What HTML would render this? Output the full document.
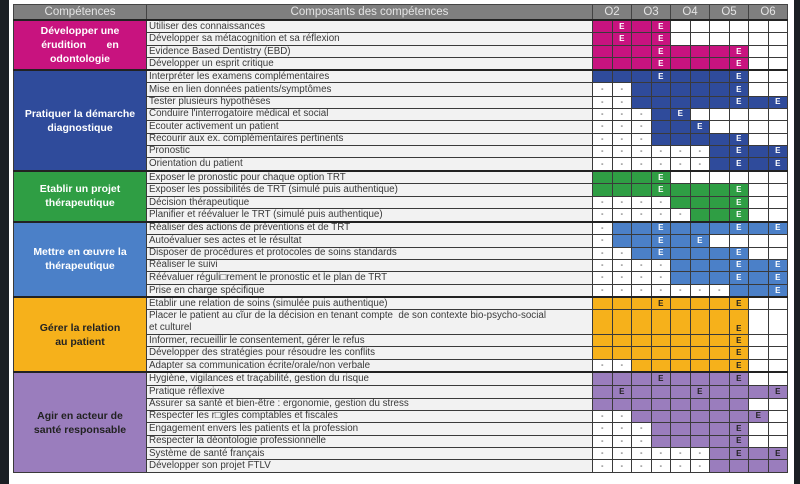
<!DOCTYPE html>
<html><head><meta charset="utf-8"><style>
html,body{margin:0;padding:0;width:800px;height:484px;background:#1b1f24;overflow:hidden}
.card{position:absolute;left:9px;top:0;width:785px;height:484px;background:#fff}
table{position:absolute;left:13px;top:4px;width:774px;border-collapse:collapse;table-layout:fixed;font-family:"Liberation Sans",sans-serif}
td,th{padding:0;border:1px solid #3a3a3a;height:11.1px;line-height:10px;overflow:hidden;white-space:nowrap}
tr.h td{height:12.1px}
th{background:#7f7f7f;color:#e4e4e4;font-weight:normal;font-size:11.5px;height:14px;line-height:13px;border-color:#444}
td.t{background:#f2f2f2;color:#3a3a3a;font-size:9.8px;padding-left:2px}
td.w,td.d{background:#fff}
td.d::after{content:"-";font-size:7px;color:#555}
td.w,td.d,td.p,td.b,td.g,td.l,td.o,td.v{text-align:center;font-size:8px;font-weight:bold}
td.c.c{color:#fff;font-weight:bold;font-size:10.5px;text-align:center;white-space:normal;line-height:14px;padding:0 6px}
.p{background:#c8137f;color:#fff}
.b{background:#2f4b9b;color:#fff}
.g{background:#2f9e44;color:#fff}
.l{background:#4b80c8;color:#fff}
.o{background:#f6b11b;color:#222}
.v{background:#9a7dbd;color:#222}
tr.s td{border-top:2px solid #222}
</style></head><body><div class="card"></div>
<table>
<colgroup><col style="width:133px"><col style="width:446px"><col span="10" style="width:19.5px"></colgroup>
<tr><th>Compétences</th><th>Composants des compétences</th><th colspan="2">O2</th><th colspan="2">O3</th><th colspan="2">O4</th><th colspan="2">O5</th><th colspan="2">O6</th></tr>

<tr class="s"><td class="c c p" rowspan="4">Développer une<br>érudition&nbsp;&nbsp;&nbsp;&nbsp;&nbsp;&nbsp; en<br>odontologie</td><td class="t">Utiliser des connaissances</td><td class="p"></td><td class="p">E</td><td class="p"></td><td class="p">E</td><td class="w"></td><td class="w"></td><td class="w"></td><td class="w"></td><td class="w"></td><td class="w"></td></tr>
<tr class="h"><td class="t">Développer sa métacognition et sa réflexion</td><td class="p"></td><td class="p">E</td><td class="p"></td><td class="p">E</td><td class="w"></td><td class="w"></td><td class="w"></td><td class="w"></td><td class="w"></td><td class="w"></td></tr>
<tr><td class="t">Evidence Based Dentistry (EBD)</td><td class="p"></td><td class="p"></td><td class="p"></td><td class="p">E</td><td class="p"></td><td class="p"></td><td class="p"></td><td class="p">E</td><td class="w"></td><td class="w"></td></tr>
<tr><td class="t">Développer un esprit critique</td><td class="p"></td><td class="p"></td><td class="p"></td><td class="p">E</td><td class="p"></td><td class="p"></td><td class="p"></td><td class="p">E</td><td class="w"></td><td class="w"></td></tr>

<tr class="s"><td class="c c b" rowspan="8">Pratiquer la démarche<br>diagnostique</td><td class="t">Interpréter les examens complémentaires</td><td class="b"></td><td class="b"></td><td class="b"></td><td class="b">E</td><td class="b"></td><td class="b"></td><td class="b"></td><td class="b">E</td><td class="w"></td><td class="w"></td></tr>
<tr class="h"><td class="t">Mise en lien données patients/symptômes</td><td class="d"></td><td class="d"></td><td class="b"></td><td class="b"></td><td class="b"></td><td class="b"></td><td class="b"></td><td class="b">E</td><td class="w"></td><td class="w"></td></tr>
<tr><td class="t">Tester plusieurs hypothèses</td><td class="d"></td><td class="d"></td><td class="b"></td><td class="b"></td><td class="b"></td><td class="b"></td><td class="b"></td><td class="b">E</td><td class="b"></td><td class="b">E</td></tr>
<tr><td class="t">Conduire l'interrogatoire médical et social</td><td class="d"></td><td class="d"></td><td class="d"></td><td class="b"></td><td class="b">E</td><td class="w"></td><td class="w"></td><td class="w"></td><td class="w"></td><td class="w"></td></tr>
<tr class="h"><td class="t">Ecouter activement un patient</td><td class="d"></td><td class="d"></td><td class="d"></td><td class="b"></td><td class="b"></td><td class="b">E</td><td class="w"></td><td class="w"></td><td class="w"></td><td class="w"></td></tr>
<tr><td class="t">Recourir aux ex. complémentaires pertinents</td><td class="d"></td><td class="d"></td><td class="d"></td><td class="b"></td><td class="b"></td><td class="b"></td><td class="b"></td><td class="b">E</td><td class="w"></td><td class="w"></td></tr>
<tr><td class="t">Pronostic</td><td class="d"></td><td class="d"></td><td class="d"></td><td class="d"></td><td class="d"></td><td class="d"></td><td class="b"></td><td class="b">E</td><td class="b"></td><td class="b">E</td></tr>
<tr class="h"><td class="t">Orientation du patient</td><td class="d"></td><td class="d"></td><td class="d"></td><td class="d"></td><td class="d"></td><td class="d"></td><td class="b"></td><td class="b">E</td><td class="b"></td><td class="b">E</td></tr>

<tr class="s"><td class="c c g" rowspan="4">Etablir un projet<br>thérapeutique</td><td class="t">Exposer le pronostic pour chaque option TRT</td><td class="g"></td><td class="g"></td><td class="g"></td><td class="g">E</td><td class="w"></td><td class="w"></td><td class="w"></td><td class="w"></td><td class="w"></td><td class="w"></td></tr>
<tr class="h"><td class="t">Exposer les possibilités de TRT (simulé puis authentique)</td><td class="g"></td><td class="g"></td><td class="g"></td><td class="g">E</td><td class="g"></td><td class="g"></td><td class="g"></td><td class="g">E</td><td class="w"></td><td class="w"></td></tr>
<tr><td class="t">Décision thérapeutique</td><td class="d"></td><td class="d"></td><td class="d"></td><td class="d"></td><td class="g"></td><td class="g"></td><td class="g"></td><td class="g">E</td><td class="w"></td><td class="w"></td></tr>
<tr><td class="t">Planifier et réévaluer le TRT (simulé puis authentique)</td><td class="d"></td><td class="d"></td><td class="d"></td><td class="d"></td><td class="d"></td><td class="g"></td><td class="g"></td><td class="g">E</td><td class="w"></td><td class="w"></td></tr>

<tr class="s"><td class="c c l" rowspan="6">Mettre en œuvre la<br>thérapeutique</td><td class="t">Réaliser des actions de préventions et de TRT</td><td class="d"></td><td class="l"></td><td class="l"></td><td class="l">E</td><td class="l"></td><td class="l"></td><td class="l"></td><td class="l">E</td><td class="l"></td><td class="l">E</td></tr>
<tr class="h"><td class="t">Autoévaluer ses actes et le résultat</td><td class="d"></td><td class="l"></td><td class="l"></td><td class="l">E</td><td class="l"></td><td class="l">E</td><td class="w"></td><td class="w"></td><td class="w"></td><td class="w"></td></tr>
<tr><td class="t">Disposer de procédures et protocoles de soins standards</td><td class="d"></td><td class="d"></td><td class="l"></td><td class="l">E</td><td class="l"></td><td class="l"></td><td class="l"></td><td class="l">E</td><td class="w"></td><td class="w"></td></tr>
<tr><td class="t">Réaliser le suivi</td><td class="d"></td><td class="d"></td><td class="d"></td><td class="d"></td><td class="l"></td><td class="l"></td><td class="l"></td><td class="l">E</td><td class="l"></td><td class="l">E</td></tr>
<tr class="h"><td class="t">Réévaluer réguli□rement le pronostic et le plan de TRT</td><td class="d"></td><td class="d"></td><td class="d"></td><td class="d"></td><td class="l"></td><td class="l"></td><td class="l"></td><td class="l">E</td><td class="l"></td><td class="l">E</td></tr>
<tr><td class="t">Prise en charge spécifique</td><td class="d"></td><td class="d"></td><td class="d"></td><td class="d"></td><td class="d"></td><td class="d"></td><td class="d"></td><td class="l"></td><td class="l"></td><td class="l">E</td></tr>

<tr class="s"><td class="c c o" rowspan="5" style="color:#222">Gérer la relation<br>au patient</td><td class="t">Etablir une relation de soins (simulée puis authentique)</td><td class="o"></td><td class="o"></td><td class="o"></td><td class="o">E</td><td class="o"></td><td class="o"></td><td class="o"></td><td class="o">E</td><td class="w"></td><td class="w"></td></tr>
<tr><td class="t" style="height:23.5px;line-height:12px">Placer le patient au cĩur de la décision en tenant compte&nbsp; de son contexte bio-psycho-social<br>et culturel</td><td class="o"></td><td class="o"></td><td class="o"></td><td class="o"></td><td class="o"></td><td class="o"></td><td class="o"></td><td class="o" style="vertical-align:bottom">E</td><td class="w"></td><td class="w"></td></tr>
<tr><td class="t">Informer, recueillir le consentement, gérer le refus</td><td class="o"></td><td class="o"></td><td class="o"></td><td class="o"></td><td class="o"></td><td class="o"></td><td class="o"></td><td class="o">E</td><td class="w"></td><td class="w"></td></tr>
<tr class="h"><td class="t">Développer des stratégies pour résoudre les conflits</td><td class="o"></td><td class="o"></td><td class="o"></td><td class="o"></td><td class="o"></td><td class="o"></td><td class="o"></td><td class="o">E</td><td class="w"></td><td class="w"></td></tr>
<tr><td class="t">Adapter sa communication écrite/orale/non verbale</td><td class="d"></td><td class="d"></td><td class="o"></td><td class="o"></td><td class="o"></td><td class="o"></td><td class="o"></td><td class="o">E</td><td class="w"></td><td class="w"></td></tr>

<tr class="s"><td class="c c v" rowspan="8" style="color:#222">Agir en acteur de<br>santé responsable</td><td class="t">Hygiène, vigilances et traçabilité, gestion du risque</td><td class="v"></td><td class="v"></td><td class="v"></td><td class="v">E</td><td class="v"></td><td class="v"></td><td class="v"></td><td class="v">E</td><td class="w"></td><td class="w"></td></tr>
<tr class="h"><td class="t">Pratique réflexive</td><td class="v"></td><td class="v">E</td><td class="v"></td><td class="v"></td><td class="v"></td><td class="v">E</td><td class="v"></td><td class="v"></td><td class="v"></td><td class="v">E</td></tr>
<tr><td class="t">Assurer sa santé et bien-être : ergonomie, gestion du stress</td><td class="v"></td><td class="v"></td><td class="v"></td><td class="v"></td><td class="v"></td><td class="v"></td><td class="v"></td><td class="v"></td><td class="w"></td><td class="w"></td></tr>
<tr><td class="t">Respecter les r□gles comptables et fiscales</td><td class="d"></td><td class="d"></td><td class="v"></td><td class="v"></td><td class="v"></td><td class="v"></td><td class="v"></td><td class="v"></td><td class="v">E</td><td class="w"></td></tr>
<tr class="h"><td class="t">Engagement envers les patients et la profession</td><td class="d"></td><td class="d"></td><td class="d"></td><td class="v"></td><td class="v"></td><td class="v"></td><td class="v"></td><td class="v">E</td><td class="w"></td><td class="w"></td></tr>
<tr><td class="t">Respecter la déontologie professionnelle</td><td class="d"></td><td class="d"></td><td class="d"></td><td class="v"></td><td class="v"></td><td class="v"></td><td class="v"></td><td class="v">E</td><td class="w"></td><td class="w"></td></tr>
<tr><td class="t">Système de santé français</td><td class="d"></td><td class="d"></td><td class="d"></td><td class="d"></td><td class="d"></td><td class="d"></td><td class="v"></td><td class="v">E</td><td class="v"></td><td class="v">E</td></tr>
<tr class="h"><td class="t">Développer son projet FTLV</td><td class="d"></td><td class="d"></td><td class="d"></td><td class="d"></td><td class="d"></td><td class="d"></td><td class="v"></td><td class="v"></td><td class="v"></td><td class="v"></td></tr>
</table>
</body></html>
